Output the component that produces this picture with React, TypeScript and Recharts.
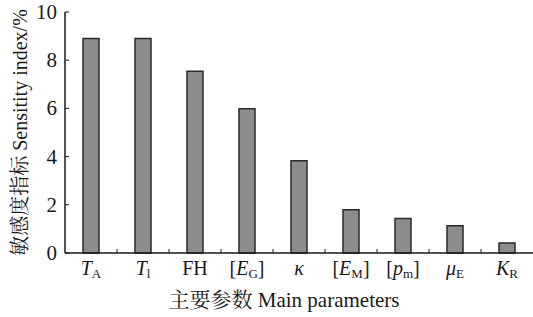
import React from 'react';
import { BarChart, Bar, XAxis, YAxis } from 'recharts';

// data
const symbols = ['T', 'T', 'FH', 'E', 'κ', 'E', 'p', 'μ', 'K'];
const subscripts = ['A', 'l', '', 'G', '', 'M', 'm', 'E', 'R'];
const bracketed = [false, false, false, true, false, true, true, false, false];
const italic = [true, true, false, true, true, true, true, true, true];
const sensitivity = [8.9, 8.9, 7.54, 5.99, 3.83, 1.79, 1.43, 1.13, 0.42];
const yTicks = [0, 2, 4, 6, 8, 10];

const data = symbols.map((s, i) => ({ key: `c${i}`, value: sensitivity[i] }));

// layout
const W = 533;
const H = 317;
const Y_AXIS_W = 65;
const X_AXIS_H = 64;
const TOP = 12;
const PLOT_W = W - Y_AXIS_W;
const BAND = PLOT_W / symbols.length;

const FONT = 'Liberation Serif, Noto Serif CJK SC, serif';
const INK = '#1a1a1a';

function CategoryTick(props: any) {
  const { x, y, index } = props;
  const i = index as number;
  return (
    <g>
      {i < symbols.length - 1 && (
        <line x1={x + BAND / 2} x2={x + BAND / 2} y1={y} y2={y - 4} stroke={INK} strokeWidth={1} />
      )}
      <text x={x} y={y + 22} textAnchor="middle" style={{ fontFamily: FONT, fontSize: 20 }} fill={INK}>
        {bracketed[i] && <tspan>[</tspan>}
        <tspan fontStyle={italic[i] ? 'italic' : 'normal'}>{symbols[i]}</tspan>
        {subscripts[i] && (
          <tspan style={{ fontSize: 13 }} dy={3}>
            {subscripts[i]}
          </tspan>
        )}
        {bracketed[i] && <tspan dy={subscripts[i] ? -3 : 0}>]</tspan>}
      </text>
    </g>
  );
}

function ValueTick(props: any) {
  const { x, y, payload } = props;
  return (
    <g>
      <line x1={x} x2={x + 4} y1={y} y2={y} stroke={INK} strokeWidth={1} />
      <text x={x - 8} y={y + 7} textAnchor="end" style={{ fontFamily: FONT, fontSize: 21 }} fill={INK}>
        {payload.value}
      </text>
    </g>
  );
}

export default function App() {
  return (
    <div style={{ position: 'absolute', left: 0, top: 0, width: W, height: H, background: '#fff' }}>
      <BarChart
        width={W}
        height={H}
        data={data}
        margin={{ top: TOP, right: 0, bottom: 0, left: 0 }}
        style={{ fontFamily: FONT }}
      >
        <XAxis
          dataKey="key"
          height={X_AXIS_H}
          axisLine={{ stroke: INK, strokeWidth: 1.5 }}
          tickLine={false}
          tickSize={0}
          tickMargin={0}
          interval={0}
          tick={<CategoryTick />}
          label={{
            value: '主要参数 Main parameters',
            position: 'insideBottom',
            offset: 10,
            dx: -15,
            style: { fontFamily: FONT, fontSize: 21, fill: INK }
          }}
        />
        <YAxis
          width={Y_AXIS_W}
          domain={[0, 10]}
          ticks={yTicks}
          axisLine={{ stroke: INK, strokeWidth: 1.5 }}
          tickLine={false}
          tickSize={0}
          tickMargin={0}
          tick={<ValueTick />}
          label={{
            value: '敏感度指标 Sensitity index/%',
            angle: -90,
            position: 'insideLeft',
            offset: 20,
            style: { textAnchor: 'middle', fontFamily: FONT, fontSize: 20, fill: INK }
          }}
        />
        <Bar
          dataKey="value"
          fill="#8c8c8c"
          stroke="#2a2a2a"
          strokeWidth={1.5}
          barSize={16}
          isAnimationActive={false}
        />
      </BarChart>
    </div>
  );
}
